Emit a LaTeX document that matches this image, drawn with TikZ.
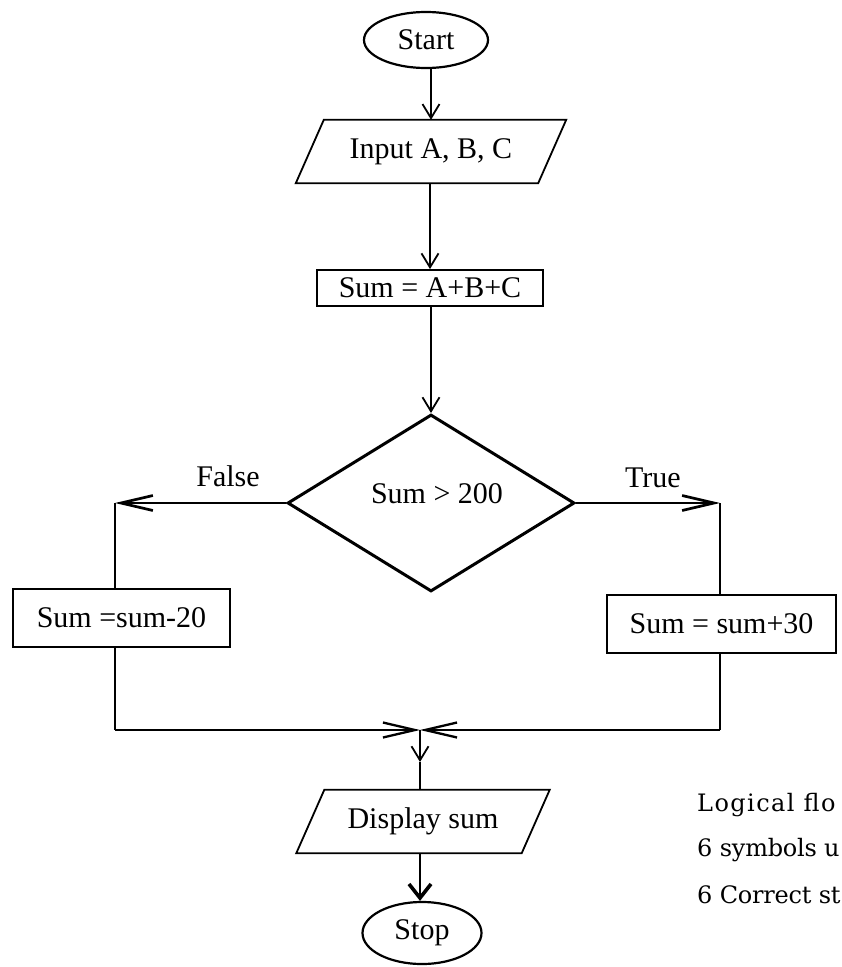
\documentclass[tikz,border=0pt]{standalone}
\usepackage{fontspec}
\setmainfont{Liberation Serif}
\newfontfamily\notefontA[LetterSpace=6]{DejaVu Serif}
\newfontfamily\notefontB[LetterSpace=-1]{DejaVu Serif}
\usetikzlibrary{arrows.meta,shapes.geometric}
\begin{document}
\begin{tikzpicture}[x=1pt,y=-1pt,
  every node/.style={font=\fontsize{30}{36}\selectfont},
  plain/.style={inner sep=1pt},
  box/.style={draw, line width=1.8pt, inner sep=2pt},
  term/.style={draw, ellipse, line width=2.2pt, inner sep=0pt},
  dia/.style={draw, diamond, line width=3pt, inner sep=0pt},
  shapeline/.style={draw, line width=1.8pt, line join=miter},
  conn/.style={line width=1.8pt},
  hconn/.style={line width=2.7pt},
  bconn/.style={line width=2.3pt},
  arr/.style={-{Straight Barb[length=14pt,width=17pt]}},
  longarr/.style={-{Straight Barb[length=32pt,width=15pt]}},
  boldarr/.style={-{Straight Barb[length=14pt,width=22pt,line width=3.6pt]}},
  notea/.style={font=\notefontA\fontsize{24}{28}\selectfont, inner sep=0pt, anchor=west},
  noteb/.style={font=\notefontB\fontsize{24}{28}\selectfont, inner sep=0pt, anchor=west}]
\useasboundingbox (0,0) rectangle (842,967);
\fill[white] (0,0) rectangle (842,967);

% nodes
\node[term, minimum width=124pt, minimum height=56pt] (start) at (426,40) {Start};

\node[plain, minimum width=242pt, minimum height=63pt] (input) at (431,151.5) {Input A, B, C};
\draw[shapeline] ([xshift=14pt]input.north west) -- ([xshift=14pt]input.north east)
  -- ([xshift=-14pt]input.south east) -- ([xshift=-14pt]input.south west) -- cycle;

\node[box, minimum width=226pt, minimum height=36pt] (sum) at (430,288) {Sum = A+B+C};

\node[dia, minimum width=287pt, minimum height=177pt] (cond) at (431,503) {};
\node[plain] (condtext) at (437,494) {Sum > 200};

\node[plain] (falsel) at (228,476) {False};
\node[plain] (truel) at (653,478) {True};

\coordinate (fl) at (115,503);
\coordinate (tr) at (720,503);

\node[box, minimum width=217pt, minimum height=58pt] (lbox) at (121.5,618) {Sum =sum-20};
\node[box, minimum width=229pt, minimum height=58pt] (rbox) at (721.5,624) {Sum = sum+30};

\coordinate (bl) at (115,730);
\coordinate (br) at (720,730);
\coordinate (join) at (420,730);
\coordinate (mid) at (420,762);

\node[plain, minimum width=225pt, minimum height=63pt] (disp) at (423,821.5) {Display sum};
\draw[shapeline] ([xshift=14pt]disp.north west) -- ([xshift=14pt]disp.north east)
  -- ([xshift=-14pt]disp.south east) -- ([xshift=-14pt]disp.south west) -- cycle;

\node[term, minimum width=119pt, minimum height=62pt] (stop) at (422,933) {Stop};

% connectors
\draw[conn,arr] (start.south -| input) -- (input.north);
\draw[conn,arr] (input.south -| sum) -- (sum.north);
\draw[conn,arr] (sum.south -| cond) -- (cond.north);
\draw[hconn,longarr] (cond.west) -- (fl);
\draw[conn] (fl) -- (fl |- lbox.north);
\draw[conn] (fl |- lbox.south) -- (bl);
\draw[hconn,longarr] (cond.east) -- (tr);
\draw[conn] (tr) -- (tr |- rbox.north);
\draw[conn] (tr |- rbox.south) -- (br);
\draw[bconn,longarr] (bl) -- (join);
\draw[bconn,longarr] (br) -- (join);
\draw[conn,arr] (join) -- (mid);
\draw[conn] (mid) -- (mid |- disp.north);
\draw[conn,boldarr] (mid |- disp.south) -- (mid |- stop.north);

% notes, as printed (cut at the right edge in the reference)
\node[notea] (n1) at (697,805) {Logical flo};
\node[noteb] (n2) at (697,850) {6 symbols u};
\node[noteb] (n3) at (697,895) {6 Correct st};
\end{tikzpicture}
\end{document}
